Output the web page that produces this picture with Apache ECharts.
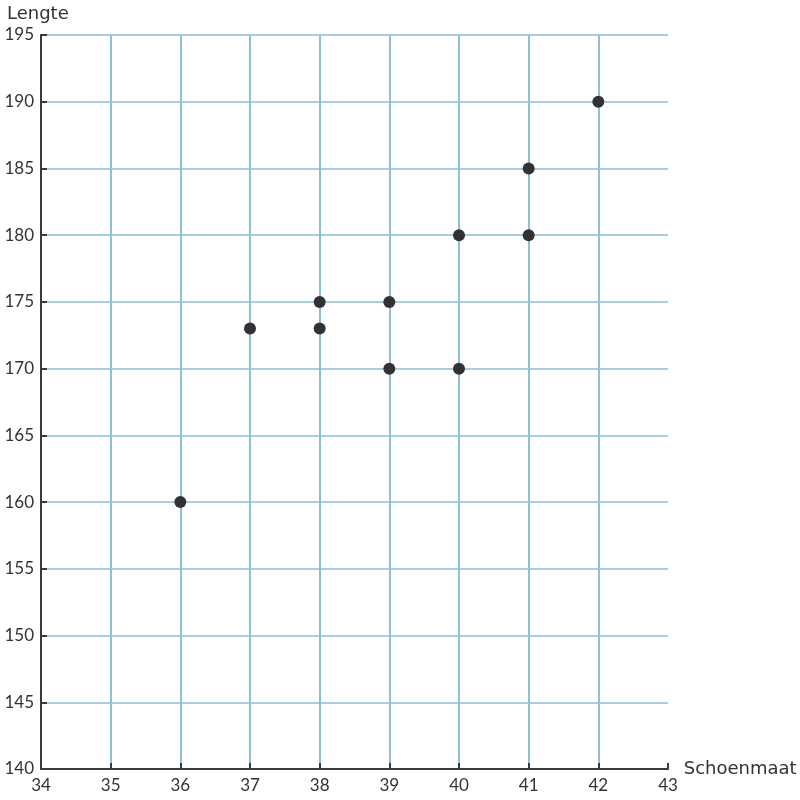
<!DOCTYPE html>
<html>
<head>
<meta charset="utf-8">
<script src="https://cdn.jsdelivr.net/npm/echarts@6/dist/echarts.min.js"></script>
<style>html,body{margin:0;padding:0;background:#fff}#c{width:800px;height:800px}</style>
</head>
<body>
<div id="c"></div>
<script>
var shoeSizes = [36, 37, 38, 38, 39, 39, 40, 40, 41, 41, 42];
var heights   = [160, 173, 175, 173, 175, 170, 180, 170, 185, 180, 190];
var xName = 'Schoenmaat';
var yName = 'Lengte';

var points = shoeSizes.map(function (s, i) { return [s, heights[i]]; });
var chart = echarts.init(document.getElementById('c'), null, {renderer: 'canvas'});
var axisColor = '#3a3a3a';
chart.setOption({
  animation: false,
  backgroundColor: '#fff',
  grid: {left: 41, right: 132, top: 35, bottom: 31, containLabel: false},
  xAxis: {
    type: 'value', min: 34, max: 43, interval: 1,
    name: xName, nameLocation: 'end', nameGap: 14,
    nameTextStyle: {fontFamily: 'DejaVu Sans', fontSize: 18, color: '#333', verticalAlign: 'middle'},
    axisLine: {show: true, lineStyle: {color: axisColor, width: 2}},
    axisTick: {show: true, inside: true, length: 6, lineStyle: {color: axisColor, width: 2}},
    axisLabel: {fontFamily: 'Lato', fontSize: 17, color: '#333', margin: 8},
    splitLine: {show: true, showMinLine: false, showMaxLine: false, lineStyle: {color: '#8ec0d5', width: 2}}
  },
  yAxis: {
    type: 'value', min: 140, max: 195, interval: 5,
    name: yName, nameLocation: 'end', nameGap: 12,
    nameTextStyle: {fontFamily: 'DejaVu Sans', fontSize: 18, color: '#333', align: 'left', padding: [0, 0, 0, -34]},
    axisLine: {show: true, lineStyle: {color: axisColor, width: 2}},
    axisTick: {show: true, inside: true, length: 6, lineStyle: {color: axisColor, width: 2}},
    axisLabel: {fontFamily: 'Lato', fontSize: 17, color: '#333', margin: 7},
    splitLine: {show: true, showMinLine: false, lineStyle: {color: '#a9cfdf', width: 2}}
  },
  series: [{
    type: 'scatter',
    data: points,
    symbolSize: 12,
    itemStyle: {color: '#343134', opacity: 1}
  }]
});
</script>
</body>
</html>
